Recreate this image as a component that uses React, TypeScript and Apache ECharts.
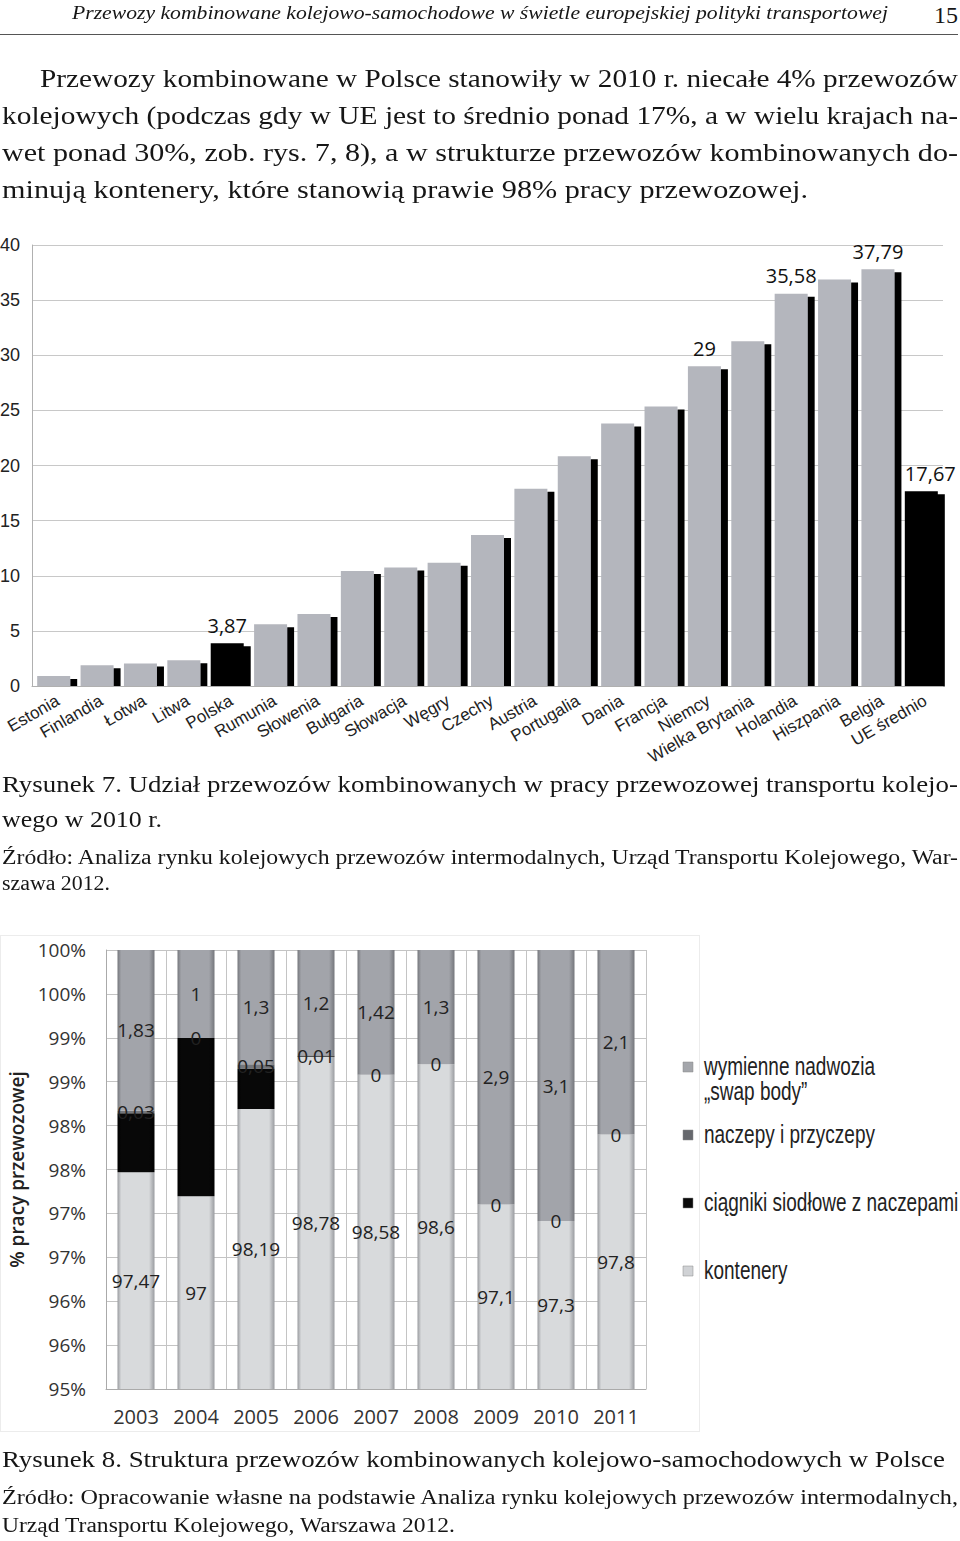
import { useEffect, useLayoutEffect, useRef } from "react";
import * as echarts from "echarts";

// Rysunek 7 – udział przewozów kombinowanych (%), 2010
const countries = [
  "Estonia", "Finlandia", "Łotwa", "Litwa", "Polska", "Rumunia", "Słowenia",
  "Bułgaria", "Słowacja", "Węgry", "Czechy", "Austria", "Portugalia", "Dania",
  "Francja", "Niemcy", "Wielka Brytania", "Holandia", "Hiszpania", "Belgia",
  "UE średnio",
];
const shares2010 = [
  0.91, 1.88, 2.03, 2.33, 3.87, 5.6, 6.53, 10.44, 10.74, 11.19, 13.7, 17.88,
  20.84, 23.81, 25.35, 29, 31.28, 35.58, 36.87, 37.79, 17.67,
];
const labelledCountries = ["Polska", "Niemcy", "Holandia", "Belgia", "UE średnio"];
const highlightedCountries = ["Polska", "UE średnio"];

// Rysunek 8 – struktura przewozów kombinowanych
const years = ["2003", "2004", "2005", "2006", "2007", "2008", "2009", "2010", "2011"];
const kontenery = [97.47, 97, 98.19, 98.78, 98.58, 98.6, 97.1, 97.3, 97.8];
const ciagniki = [0.67, 1.8, 0.46, 0.01, 0, 0, 0, 0, 0];
const naczepy = [0.03, 0, 0.05, 0.01, 0, 0, 0, 0, 0];
const wymienne = [1.83, 1, 1.3, 1.2, 1.42, 1.3, 2.9, 3.1, 2.1];

const fmt = (v: number) => String(v).replace(".", ",");

function ShareChart() {
  const ref = useRef<HTMLDivElement>(null);

  useEffect(() => {
    if (!ref.current) return;
    const chart = echarts.init(ref.current, null, { renderer: "svg" });
    const height = 570;
    const bottom = 109;
    chart.setOption({
      animation: false,
      grid: { left: 32, right: 17, top: 20, bottom, outerBoundsMode: "none" },
      xAxis: {
        type: "category",
        data: countries,
        z: 10,
        axisLine: { lineStyle: { color: "#b0b0b0" } },
        axisTick: { length: 5, lineStyle: { color: "#b0b0b0" } },
        axisLabel: {
          interval: 0,
          rotate: 30,
          margin: 6,
          verticalAlign: "top",
          fontFamily: "Liberation Sans",
          fontSize: 17,
          color: "#222",
        },
      },
      yAxis: {
        type: "value",
        min: 0,
        max: 40,
        interval: 5,
        axisLine: { show: true, lineStyle: { color: "#b0b0b0" } },
        axisTick: { show: false },
        splitLine: { lineStyle: { color: "#c8c8c8" } },
        axisLabel: {
          margin: 12,
          fontFamily: "Liberation Sans",
          fontSize: 18,
          color: "#222",
        },
      },
      // hides the part of the bar shadows that falls below the axis
      graphic: [
        {
          type: "rect",
          z: 5,
          shape: { x: 33, y: height - bottom + 0.5, width: 925, height: 5 },
          style: { fill: "#fff" },
        },
      ],
      series: [
        {
          type: "bar",
          barWidth: 33,
          itemStyle: {
            shadowColor: "#000",
            shadowBlur: 0,
            shadowOffsetX: 7,
            shadowOffsetY: 3,
          },
          label: {
            show: false,
            position: "top",
            distance: 8,
            formatter: (p: any) => fmt(p.value),
            fontFamily: "Open Sans",
            fontSize: 20,
            color: "#111",
          },
          data: shares2010.map((v, i) => ({
            value: v,
            itemStyle: {
              color: highlightedCountries.includes(countries[i]) ? "#000" : "#b4b6bd",
            },
            label: {
              show: labelledCountries.includes(countries[i]),
              offset: [i === countries.length - 1 ? 9 : 0, 0],
            },
          })),
        },
      ],
    });
    return () => chart.dispose();
  }, []);

  return (
    <div
      ref={ref}
      style={{ position: "absolute", left: 0, top: 225, width: 960, height: 570 }}
    />
  );
}

const grad = (edge: string, mid: string) =>
  new echarts.graphic.LinearGradient(0, 0, 1, 0, [
    { offset: 0, color: edge },
    { offset: 0.1, color: mid },
    { offset: 0.85, color: mid },
    { offset: 1, color: edge },
  ]);

function StructureChart() {
  const ref = useRef<HTMLDivElement>(null);

  useEffect(() => {
    if (!ref.current) return;
    const chart = echarts.init(ref.current, null, { renderer: "svg" });
    const totals = years.map(
      (_, i) => kontenery[i] + ciagniki[i] + naczepy[i] + wymienne[i]
    );
    const parts = [
      { name: "kontenery", values: kontenery, fill: grad("#9a9ca0", "#d8dadc"), icon: "#d0d2d5", label: true },
      { name: "ciągniki siodłowe z naczepami", values: ciagniki, fill: grad("#000", "#080808"), icon: "#0a0a0a", label: false },
      { name: "naczepy i przyczepy", values: naczepy, fill: grad("#55575b", "#74767b"), icon: "#66686d", label: true },
      { name: "wymienne nadwozia", values: wymienne, fill: grad("#75777c", "#a2a4aa"), icon: "#a4a6ab", label: true },
    ];
    const labelFont = { fontFamily: "Open Sans", fontSize: 19, color: "#222" };
    const legendRows = [
      { idx: 3, y: 137, lines: ["wymienne nadwozia", "„swap body”"] },
      { idx: 2, y: 205, lines: ["naczepy i przyczepy"] },
      { idx: 1, y: 273, lines: ["ciągniki siodłowe z naczepami"] },
      { idx: 0, y: 341, lines: ["kontenery"] },
    ];
    const legendGraphics: any[] = [];
    legendRows.forEach((row) => {
      legendGraphics.push({
        type: "rect",
        shape: { x: 683, y: row.y - 5, width: 10, height: 10 },
        style: { fill: parts[row.idx].icon, stroke: "#888", lineWidth: 0.5 },
      });
      row.lines.forEach((t, k) => {
        legendGraphics.push({
          type: "text",
          x: 704,
          y: row.y + k * 25,
          scaleX: 0.76,
          style: {
            text: t,
            fontFamily: "Liberation Sans",
            fontSize: 25,
            fill: "#222",
            verticalAlign: "middle",
          },
        });
      });
    });

    chart.setOption({
      animation: false,
      grid: { left: 106, right: 314, top: 20, bottom: 46, outerBoundsMode: "none" },
      xAxis: {
        type: "category",
        data: years,
        axisLine: { lineStyle: { color: "#aaa" } },
        axisTick: { length: 6, lineStyle: { color: "#999" } },
        splitLine: { show: true, lineStyle: { color: "#c4c4c4" } },
        axisLabel: { margin: 17, fontFamily: "Open Sans", fontSize: 20, color: "#333" },
      },
      yAxis: {
        type: "value",
        min: 95,
        max: 100,
        interval: 0.5,
        name: "% pracy przewozowej",
        nameLocation: "middle",
        nameRotate: 90,
        nameGap: 78,
        nameTextStyle: { fontFamily: "Open Sans", fontWeight: 600, fontSize: 19, color: "#222" },
        axisLine: { show: true, lineStyle: { color: "#aaa" } },
        axisTick: { show: false },
        splitLine: { lineStyle: { color: "#c4c4c4" } },
        axisLabel: {
          margin: 20,
          fontFamily: "Open Sans",
          fontSize: 19,
          color: "#333",
          formatter: (v: number) => Math.round(v) + "%",
        },
      },
      series: parts.map((p) => ({
        name: p.name,
        type: "bar",
        stack: "total",
        barWidth: 37,
        itemStyle: { color: p.fill },
        label: {
          show: p.label,
          position: "inside",
          ...labelFont,
          formatter: (q: any) => fmt(p.values[q.dataIndex]),
        },
        data: p.values.map((v, i) => (v / totals[i]) * 100),
      })),
      graphic: legendGraphics,
    });
    return () => chart.dispose();
  }, []);

  return (
    <div
      ref={ref}
      style={{ position: "absolute", left: 0, top: 930, width: 960, height: 505 }}
    />
  );
}

type LineProps = {
  x: number;
  w: number;
  base: number;
  size: number;
  italic?: boolean;
  children: any;
};

// one line of the page text, stretched horizontally to the width it has in the scan
function Line({ x, w, base, size, italic = false, children }: LineProps) {
  const span = useRef<HTMLSpanElement>(null);
  const lh = size * 1.2;

  useLayoutEffect(() => {
    const el = span.current;
    if (!el) return;
    el.style.transform = "none";
    const natural = el.getBoundingClientRect().width;
    if (natural > 0) el.style.transform = `scaleX(${w / natural})`;
  }, [w, children]);

  return (
    <div
      style={{
        position: "absolute",
        left: x,
        top: base - size * 0.9375,
        height: lh,
        lineHeight: lh + "px",
        fontSize: size,
        whiteSpace: "nowrap",
        fontStyle: italic ? "italic" : "normal",
        color: "#161616",
      }}
    >
      <span ref={span} style={{ display: "inline-block", transformOrigin: "0 0" }}>
        {children}
      </span>
    </div>
  );
}

export default function App() {
  return (
    <div
      style={{
        position: "absolute",
        left: 0,
        top: 0,
        width: 960,
        height: 1541,
        background: "#fff",
        overflow: "hidden",
        fontFamily: '"Liberation Serif", serif',
      }}
    >
      <Line x={72} w={816} base={20} size={19} italic>
        Przewozy kombinowane kolejowo-samochodowe w świetle europejskiej polityki transportowej
      </Line>
      <Line x={934} w={24} base={23} size={24}>
        15
      </Line>
      <div style={{ position: "absolute", left: 0, top: 34, width: 958, height: 1, background: "#555" }} />

      <Line x={40} w={918} base={87} size={26}>
        Przewozy kombinowane w Polsce stanowiły w 2010 r. niecałe 4% przewozów
      </Line>
      <Line x={2} w={956} base={124} size={26}>
        kolejowych (podczas gdy w UE jest to średnio ponad 17%, a w wielu krajach na-
      </Line>
      <Line x={2} w={956} base={161} size={26}>
        wet ponad 30%, zob. rys. 7, 8), a w strukturze przewozów kombinowanych do-
      </Line>
      <Line x={2} w={806} base={198} size={26}>
        minują kontenery, które stanowią prawie 98% pracy przewozowej.
      </Line>

      <ShareChart />

      <Line x={2} w={956} base={793} size={23}>
        Rysunek 7. Udział przewozów kombinowanych w pracy przewozowej transportu kolejo-
      </Line>
      <Line x={2} w={160} base={828} size={23}>
        wego w 2010 r.
      </Line>
      <Line x={2} w={956} base={864} size={20}>
        Źródło: Analiza rynku kolejowych przewozów intermodalnych, Urząd Transportu Kolejowego, War-
      </Line>
      <Line x={2} w={108} base={890} size={20}>
        szawa 2012.
      </Line>

      <div
        style={{
          position: "absolute",
          left: 0,
          top: 935,
          width: 700,
          height: 497,
          border: "1px solid #ececec",
          boxSizing: "border-box",
        }}
      />
      <StructureChart />

      <Line x={2} w={943} base={1468} size={23}>
        Rysunek 8. Struktura przewozów kombinowanych kolejowo-samochodowych w Polsce
      </Line>
      <Line x={2} w={956} base={1504} size={20}>
        Źródło: Opracowanie własne na podstawie Analiza rynku kolejowych przewozów intermodalnych,
      </Line>
      <Line x={2} w={453} base={1532} size={20}>
        Urząd Transportu Kolejowego, Warszawa 2012.
      </Line>
    </div>
  );
}
